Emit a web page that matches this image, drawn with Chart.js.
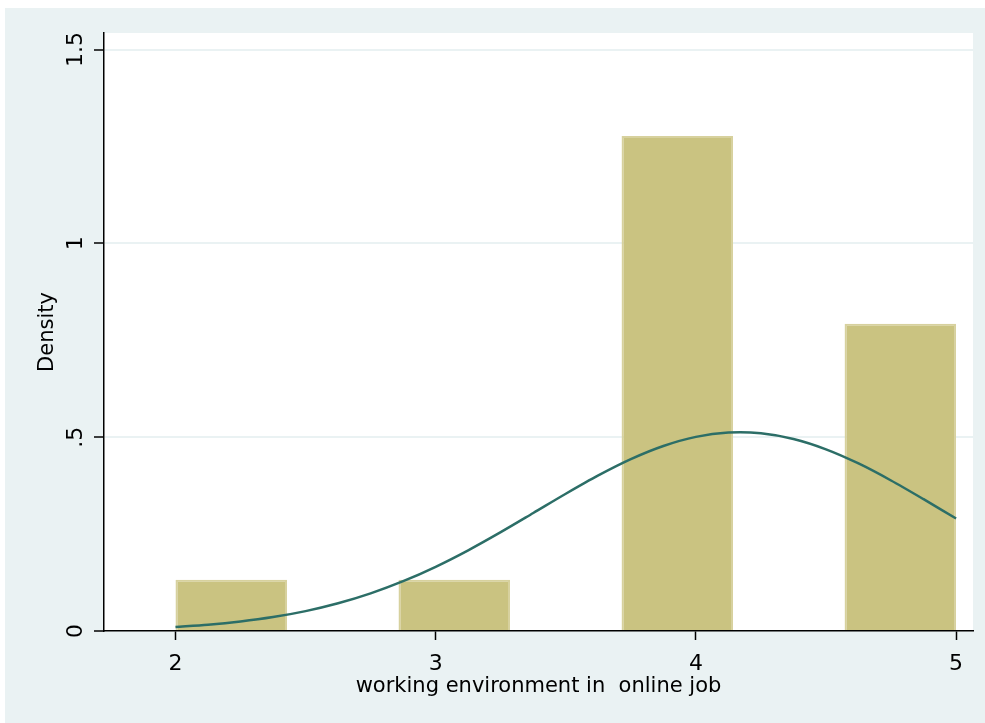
<!DOCTYPE html>
<html>
<head>
<meta charset="utf-8">
<script src="https://cdn.jsdelivr.net/npm/chart.js@4"></script>
<style>
  html, body { margin: 0; padding: 0; background: #ffffff; }
  #wrap { width: 985px; height: 723px; }
</style>
</head>
<body>
<div id="wrap"><canvas id="hist" width="985" height="723"></canvas></div>
<script>
// Histogram bins (width 3/7) that hold observations: centre of each bin and its density
const binCenters = [2.2143, 3.0714, 3.9286, 4.7857];
const binDensity = [0.1321, 0.1321, 1.2767, 0.7925];

// Overlaid normal density curve, sampled along x
const curveX = [2.000, 2.125, 2.250, 2.375, 2.500, 2.625, 2.750, 2.875, 3.000, 3.125, 3.250, 3.375, 3.500,
                3.625, 3.750, 3.875, 4.000, 4.125, 4.250, 4.375, 4.500, 4.625, 4.750, 4.875, 5.000];
const curveY = [0.0105, 0.0162, 0.0245, 0.0359, 0.0513, 0.0715, 0.0971, 0.1285, 0.1657, 0.2082, 0.2550, 0.3043, 0.3540,
                0.4013, 0.4433, 0.4772, 0.5007, 0.5118, 0.5100, 0.4952, 0.4686, 0.4321, 0.3883, 0.3401, 0.2902];

// Axis ticks and labels
const xTicks = [2, 3, 4, 5];
const xTickLabels = ['2', '3', '4', '5'];
const yTicks = [0, 0.5, 1, 1.5];
const yTickLabels = ['0', '.5', '1', '1.5'];
const xTitle = 'working environment in  online job';
const yTitle = 'Density';

const FONT = '"DejaVu Sans", sans-serif';
const REGION_BG = '#EAF2F3';

// Paints the outer graph region and the white plot region
const backdrop = {
  id: 'backdrop',
  beforeDraw(chart) {
    const { ctx, chartArea: a } = chart;
    ctx.save();
    ctx.fillStyle = REGION_BG;
    ctx.fillRect(5, 8, chart.width - 5, chart.height - 8);
    ctx.fillStyle = '#ffffff';
    ctx.fillRect(a.left, a.top, a.right - a.left, a.bottom - a.top);
    ctx.restore();
  }
};

// Vertical (bottom-to-top) y tick labels
const yLabels = {
  id: 'yLabels',
  afterDraw(chart) {
    const { ctx } = chart;
    const ys = chart.scales.y;
    ctx.save();
    ctx.fillStyle = '#000';
    ctx.font = '22px ' + FONT;
    ctx.textAlign = 'center';
    ctx.textBaseline = 'alphabetic';
    yTicks.forEach((v, i) => {
      const py = ys.getPixelForValue(v);
      ctx.save();
      ctx.translate(82, py);
      ctx.rotate(-Math.PI / 2);
      ctx.fillText(yTickLabels[i], 0, 0);
      ctx.restore();
    });
    ctx.restore();
  }
};

new Chart(document.getElementById('hist'), {
  data: {
    datasets: [
      {
        type: 'line',
        order: 0,
        data: curveX.map((x, i) => ({ x, y: curveY[i] })),
        borderColor: '#2C6E67',
        borderWidth: 2.5,
        pointRadius: 0,
        tension: 0.3,
        fill: false
      },
      {
        type: 'bar',
        order: 1,
        data: binCenters.map((x, i) => ({ x, y: binDensity[i] })),
        backgroundColor: '#CAC381',
        borderColor: '#D7D19E',
        borderWidth: 2,
        borderSkipped: 'bottom',
        categoryPercentage: 0.5,
        barPercentage: 1.0
      }
    ]
  },
  options: {
    responsive: false,
    animation: false,
    devicePixelRatio: 1,
    layout: { padding: { left: 5, top: 33, right: 12, bottom: 0 } },
    plugins: { legend: { display: false }, tooltip: { enabled: false } },
    scales: {
      x: {
        type: 'linear',
        min: 1.7253,
        max: 5.065,
        offset: false,
        afterBuildTicks: s => { s.ticks = xTicks.map(v => ({ value: v })); },
        afterFit: s => { s.height = 92; },
        grid: { offset: false, drawOnChartArea: false, drawTicks: true, tickLength: 9, tickColor: '#000', tickWidth: 1.5 },
        border: { display: true, color: '#000', width: 1.5 },
        ticks: {
          color: '#000',
          padding: 11,
          maxRotation: 0,
          font: { family: FONT, size: 22 },
          callback: (v) => xTickLabels[xTicks.indexOf(v)]
        },
        title: {
          display: true,
          text: xTitle,
          color: '#000',
          font: { family: FONT, size: 21 },
          padding: { top: 0, bottom: 24 }
        }
      },
      y: {
        type: 'linear',
        min: 0,
        max: 1.5426,
        afterBuildTicks: s => { s.ticks = yTicks.map(v => ({ value: v })); },
        afterFit: s => { s.width = 99; },
        grid: {
          color: c => (c.tick && c.tick.value === 0) ? 'rgba(0,0,0,0)' : REGION_BG,
          lineWidth: 2,
          drawTicks: true,
          tickLength: 10,
          tickColor: '#000',
          tickWidth: 1.5
        },
        border: { display: true, color: '#000', width: 1.5 },
        ticks: { display: false },
        title: {
          display: true,
          text: yTitle,
          color: '#000',
          font: { family: FONT, size: 21 },
          padding: { top: 30, bottom: 0 }
        }
      }
    }
  },
  plugins: [backdrop, yLabels]
});
</script>
</body>
</html>
